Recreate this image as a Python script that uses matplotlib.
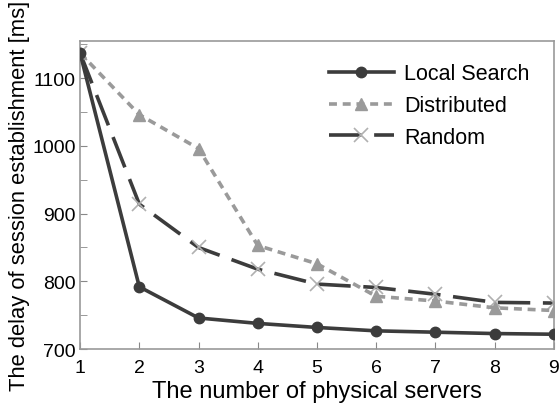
import matplotlib
matplotlib.use("Agg")
import matplotlib.pyplot as plt
from matplotlib.ticker import MultipleLocator

servers = [1, 2, 3, 4, 5, 6, 7, 8, 9]
local_search = [1137, 792, 746, 738, 732, 727, 725, 723, 722]
distributed = [1137, 1046, 996, 853, 826, 778, 771, 761, 757]
random_sel = [1137, 914, 850, 818, 796, 791, 781, 769, 768]

plt.rcParams["font.family"] = ["Liberation Sans", "DejaVu Sans"]

fig = plt.figure(figsize=(5.6, 4.1), dpi=100)
ax = fig.add_axes([0.143, 0.146, 0.846, 0.752])

ax.plot(servers, local_search, color="#3c3c3c", lw=2.6, marker="o", ms=7.5,
        label="Local Search", zorder=4)
ax.plot(servers, distributed, color="#9a9a9a", lw=2.6, ls=(0, (2.2, 1.6)),
        marker="^", ms=8, label="Distributed", zorder=3)
ax.plot(servers, random_sel, color="#3c3c3c", lw=2.6, ls=(0, (9, 3.5)),
        marker="x", ms=10, mec="#b0b0b0", mew=1.2, label="Random", zorder=2)

ax.set_xlim(1, 9)
ax.set_ylim(700, 1155)
ax.set_xticks(servers)
ax.yaxis.set_major_locator(MultipleLocator(100))
ax.yaxis.set_minor_locator(MultipleLocator(50))
ax.tick_params(direction="in", labelsize=14, length=5, color="#888888", pad=5)
ax.tick_params(which="minor", direction="in", length=5, color="#888888")
ax.tick_params(axis="x", top=False, pad=7)
ax.tick_params(axis="y", right=False, pad=3)
for s in ax.spines.values():
    s.set_color("#999999")
    s.set_linewidth(1.2)

ax.set_xlabel("The number of physical servers", fontsize=17, labelpad=3)
ax.set_ylabel("The delay of session establishment [ms]", fontsize=15.8, labelpad=2)

leg = ax.legend(loc="upper right", frameon=False, fontsize=15.5, handlelength=3.0,
                handletextpad=0.5, bbox_to_anchor=(0.99, 0.99), labelspacing=0.5)

fig.savefig("out.png", dpi=100)
